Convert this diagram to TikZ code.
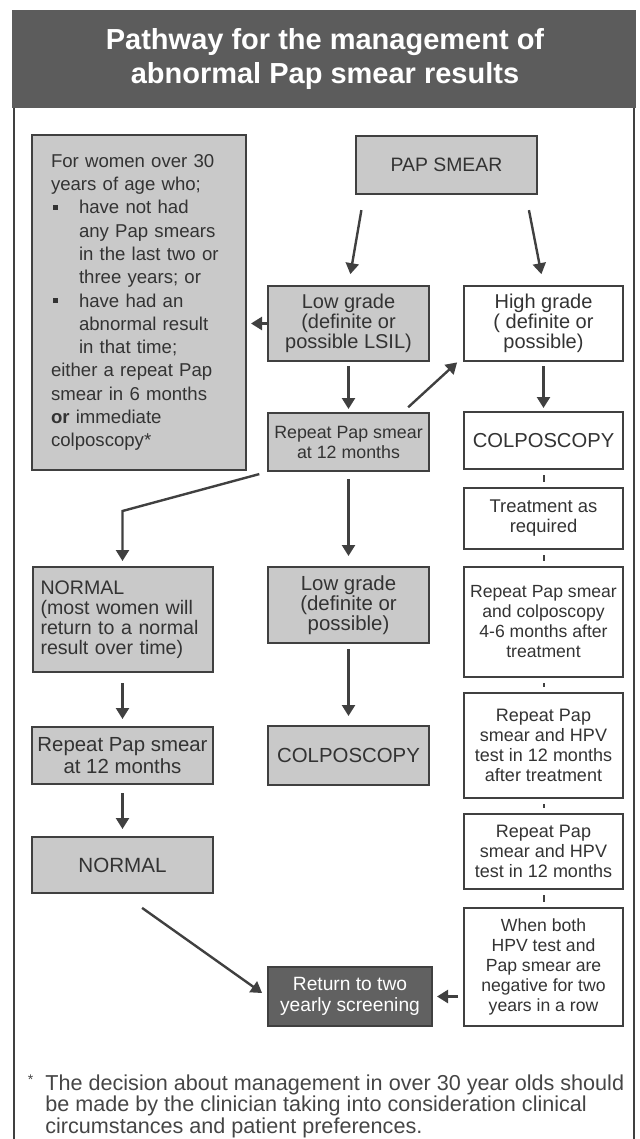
\documentclass[tikz,border=0pt]{standalone}
\usepackage{fontspec}
\setmainfont{Liberation Sans}
\usetikzlibrary{arrows.meta}

\definecolor{boxgrey}{gray}{0.79}
\definecolor{boxline}{gray}{0.25}
\definecolor{ink}{gray}{0.2}
\definecolor{titlegrey}{gray}{0.36}
\definecolor{retgrey}{gray}{0.38}
\definecolor{notegrey}{gray}{0.27}

\newcommand{\fs}[2]{\fontsize{#1}{#2}\selectfont}
\newcommand{\bulitem}{\makebox[14pt][l]{\hspace{1pt}\rule[2pt]{2.6pt}{2.6pt}}}
\newcommand{\bulindent}{\hspace*{14pt}}

\begin{document}
\begin{tikzpicture}[x=0.5pt, y=-0.5pt,
    box/.style = {draw=boxline, line width=1pt, text=ink, align=center, inner sep=2pt},
    greybox/.style = {box, fill=boxgrey},
    whitebox/.style = {box, fill=white},
    darkbox/.style = {box, fill=retgrey, text=white},
    leftcol/.style = {minimum width=90.5pt},
    midcol/.style = {minimum width=80.5pt},
    rightcol/.style = {minimum width=79.5pt},
    flow/.style = {draw=boxline, line width=1.2pt, -{Triangle[length=5.5pt, width=6.5pt]}},
    link/.style = {draw=boxline, line width=1pt, shorten <=2.5pt, shorten >=2.5pt}]
    \useasboundingbox (0,0) rectangle (640,1139);
    \fill[titlegrey] (12,10) rectangle (636,108);
    \draw[boxline, line width=1.2pt] (14,108) -- (14,1139) (634,108) -- (634,1139);
    \node[text=white, align=center, font=\bfseries\fs{14.5}{17}](title) at (325,59) {Pathway for the management of\\abnormal Pap smear results};

    \node[greybox, align=left, text width=88pt, inner xsep=9.5pt, minimum height=167.5pt, font=\fs{9.3}{11.65}](info) at (139,302.5) {For women over 30\\years of age who;\\\bulitem have not had\\\bulindent any Pap smears\\\bulindent in the last two or\\\bulindent three years; or\\\bulitem have had an\\\bulindent abnormal result\\\bulindent in that time;\\either a repeat Pap\\smear in 6 months\\\textbf{or} immediate\\colposcopy*};
    \node[greybox, minimum width=90.5pt, minimum height=29pt, font=\fs{9.7}{11}](pap) at (446.5,165) {PAP SMEAR};
    \node[greybox, midcol, minimum height=37.5pt, font=\fs{10}{10}](lowA) at (348.5,323.5) {Low grade\\(definite or\\possible LSIL)};
    \node[whitebox, rightcol, minimum height=37.5pt, font=\fs{10}{10}](high) at (543.5,323.5) {High grade\\( definite or\\possible)};
    \node[greybox, midcol, minimum height=29pt, font=\fs{8.9}{10}](rep12mid) at (348.5,442) {Repeat Pap smear\\at 12 months};
    \node[whitebox, rightcol, minimum height=28.5pt, font=\fs{10.1}{11}](colpoR) at (543.5,440.5) {COLPOSCOPY};
    \node[whitebox, rightcol, minimum height=30.5pt, font=\fs{9.2}{10}](treat) at (543.5,518.5) {Treatment as\\required};
    \node[whitebox, rightcol, minimum height=55pt, font=\fs{8.8}{10}](rep46) at (543.5,622) {Repeat Pap smear\\and colposcopy\\4-6 months after\\treatment};
    \node[whitebox, rightcol, minimum height=52.5pt, font=\fs{9}{10}](hpvA) at (543.5,745.5) {Repeat Pap\\smear and HPV\\test in 12 months\\after treatment};
    \node[whitebox, rightcol, minimum height=37.5pt, font=\fs{9}{10}](hpvB) at (543.5,851.5) {Repeat Pap\\smear and HPV\\test in 12 months};
    \node[whitebox, rightcol, minimum height=59pt, font=\fs{8.8}{10}](both) at (543.5,967) {When both\\HPV test and\\Pap smear are\\negative for two\\years in a row};
    \node[greybox, align=left, text width=82pt, inner xsep=4pt, minimum height=52.5pt, font=\fs{9.8}{10}](normA) at (122.5,619.5) {NORMAL\\(most women will\\return to a normal\\result over time)};
    \node[greybox, leftcol, minimum height=28.5pt, font=\fs{10.2}{10.8}](repL) at (122.5,755.5) {Repeat Pap smear\\at 12 months};
    \node[greybox, leftcol, minimum height=28pt, font=\fs{10.3}{11}](normB) at (122.5,865) {NORMAL};
    \node[greybox, midcol, minimum height=38pt, font=\fs{10.2}{10}](lowB) at (348.5,605) {Low grade\\(definite or\\possible)};
    \node[greybox, midcol, minimum height=29.5pt, font=\fs{10.2}{11}](colpoM) at (348.5,755.5) {COLPOSCOPY};
    \node[darkbox, minimum width=82pt, minimum height=29.5pt, font=\fs{9.6}{10.8}](ret) at (350,996.5) {Return to two\\yearly screening};

    \draw[flow, shorten <=7.7pt, shorten >=5.5pt] ([xshift=4.5pt]pap.south west) to (lowA.north);
    \draw[flow, shorten <=7.7pt, shorten >=5.5pt] ([xshift=-6pt]pap.south east) to (high.north);
    \draw[flow, shorten >=2pt] (lowA.west) to (lowA.west -| info.east);
    \draw[flow, shorten <=2pt, shorten >=1.5pt] (lowA.south) to (rep12mid.north);
    \draw[flow, shorten <=3.5pt, shorten >=4pt] ([xshift=-13.5pt]rep12mid.north east) to ([yshift=2.5pt]high.south west);
    \draw[flow, shorten <=2pt, shorten >=1.5pt] (high.south) to (colpoR.north);
    \draw[flow, shorten <=4pt, shorten >=2.5pt] (rep12mid.south west) -- ([yshift=27.5pt]normA.north) -- (normA.north);
    \draw[flow, shorten <=3.5pt, shorten >=5pt] (rep12mid.south) to (lowB.north);
    \draw[flow, shorten <=2.5pt, shorten >=4.5pt] (lowB.south) to (colpoM.north);
    \draw[flow, shorten <=5pt, shorten >=3.5pt] (normA.south) to (repL.north);
    \draw[flow, shorten <=4pt, shorten >=3.5pt] (repL.south) to (normB.north);
    \draw[flow, shorten <=12pt, shorten >=3pt] (normB.south) to (ret.west);
    \draw[flow, shorten <=2.5pt, shorten >=2pt] (ret.east -| both.west) to (ret.east);
    \draw[link] (colpoR) to (treat);
    \draw[link] (treat) to (rep46);
    \draw[link] (rep46) to (hpvA);
    \draw[link] (hpvA) to (hpvB);
    \draw[link] (hpvB) to (both);

    \node[anchor=north west, inner sep=0pt, align=left, text=notegrey, font=\fs{10.8}{10.8}](note) at (45,1074) {\llap{\raisebox{3pt}{\fs{7}{7}*}\hspace{6pt}}The decision about management in over 30 year olds should\\be made by the clinician taking into consideration clinical\\circumstances and patient preferences.};
\end{tikzpicture}
\end{document}
